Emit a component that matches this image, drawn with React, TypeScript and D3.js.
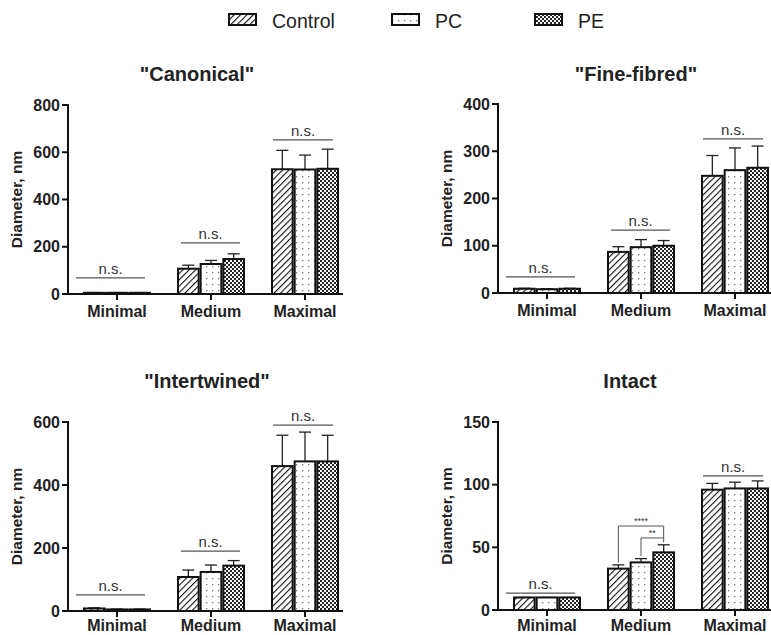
import React from "react";
import * as d3 from "d3";

const categories = ["Minimal", "Medium", "Maximal"];
const series = ["Control", "PC", "PE"];

// means / upper error, [category][series]
const canonicalMean = [[5, 5, 5], [107, 127, 148], [528, 527, 530]];
const canonicalErr = [[6, 6, 6], [122, 142, 170], [608, 588, 613]];
const canonicalNs = [68, 216, 652];

const fineMean = [[9, 8, 9], [87, 97, 100], [248, 260, 265]];
const fineErr = [[10, 9, 10], [98, 113, 111], [291, 307, 311]];
const fineNs = [34, 133, 326];

const interMean = [[8, 5, 5], [108, 124, 144], [460, 475, 475]];
const interErr = [[10, 6, 6], [130, 146, 160], [558, 568, 558]];
const interNs = [51, 190, 590];

const intactMean = [[10, 10, 10], [33, 38, 46], [96, 97, 97]];
const intactErr = [[10, 10, 10], [36, 41, 52], [101, 102, 103]];
const intactNs = [13.5, null, 107];
const intactBrackets = [
  { cat: 1, from: 0, to: 2, level: 67, legFrom: 38, legTo: 57, label: "****" },
  { cat: 1, from: 1, to: 2, level: 57.5, legFrom: 43, legTo: 54, label: "**" },
];

const FONT = "'Liberation Sans', Arial, sans-serif";
const fills = ["url(#hatch)", "url(#dots)", "url(#checker)"];

type PanelProps = {
  title: string;
  titleX: number;
  titleY: number;
  axisX: number;
  top: number;
  bottom: number;
  labelDy: number;
  yMax: number;
  yTicks: number[];
  mean: number[][];
  err: number[][];
  ns: (number | null)[];
  brackets?: typeof intactBrackets;
};

function Panel(p: PanelProps) {
  const y = d3.scaleLinear().domain([0, p.yMax]).range([p.bottom, p.top]);
  const x = d3.scaleBand().domain(categories).range([p.axisX + 2, p.axisX + 284]);
  const xs = d3.scaleBand().domain(series).range([-34, 34]);
  const cx = (c: string) => (x(c) as number) + x.bandwidth() / 2;
  const nsSpan = [[-41, 28], [-30, 29], [-32, 28]];

  return (
    <g>
      <text x={p.titleX} y={p.titleY} textAnchor="middle" fontSize={20} fontWeight="bold" fill="#222">
        {p.title}
      </text>
      <text
        transform={`translate(${p.axisX - 46},${(p.top + p.bottom) / 2}) rotate(-90)`}
        textAnchor="middle"
        fontSize={15.5}
        fontWeight="bold"
        fill="#222"
      >
        Diameter, nm
      </text>
      {categories.map((c, ci) =>
        series.map((s, si) => {
          const x0 = cx(c) + (xs(s) as number);
          const w = xs.bandwidth();
          const yv = y(p.mean[ci][si]);
          const ye = y(p.err[ci][si]);
          return (
            <g key={c + s}>
              <line x1={x0 + w / 2} x2={x0 + w / 2} y1={yv} y2={ye} stroke="#222" strokeWidth={1.3} />
              <line x1={x0 + w / 2 - 6} x2={x0 + w / 2 + 6} y1={ye} y2={ye} stroke="#222" strokeWidth={1.3} />
              <rect
                x={x0 + 1}
                y={yv}
                width={w - 2}
                height={p.bottom - yv}
                fill={fills[si]}
                stroke="#111"
                strokeWidth={2}
              />
            </g>
          );
        })
      )}
      {p.ns.map((v, ci) =>
        v == null ? null : (
          <g key={"ns" + ci}>
            <line
              x1={cx(categories[ci]) + nsSpan[ci][0]}
              x2={cx(categories[ci]) + nsSpan[ci][1]}
              y1={y(v)}
              y2={y(v)}
              stroke="#555"
              strokeWidth={1.2}
            />
            <text
              x={cx(categories[ci]) + (nsSpan[ci][0] + nsSpan[ci][1]) / 2}
              y={y(v) - 4}
              textAnchor="middle"
              fontSize={15}
              fill="#333"
            >
              n.s.
            </text>
          </g>
        )
      )}
      {(p.brackets || []).map((b, i) => {
        const c = categories[b.cat];
        const xa = cx(c) + (xs(series[b.from]) as number) + xs.bandwidth() / 2;
        const xb = cx(c) + (xs(series[b.to]) as number) + xs.bandwidth() / 2;
        return (
          <g key={"br" + i}>
            <path
              d={`M${xa},${y(b.legFrom)}V${y(b.level)}H${xb}V${y(b.legTo)}`}
              fill="none"
              stroke="#555"
              strokeWidth={1}
            />
            <text x={(xa + xb) / 2} y={y(b.level) - 2} textAnchor="middle" fontSize={9} fill="#333">
              {b.label}
            </text>
          </g>
        );
      })}
      {/* y axis */}
      <line x1={p.axisX} x2={p.axisX} y1={p.top - 1} y2={p.bottom + 1} stroke="#111" strokeWidth={2} />
      {p.yTicks.map((t) => (
        <g key={t}>
          <line x1={p.axisX - 6} x2={p.axisX} y1={y(t)} y2={y(t)} stroke="#111" strokeWidth={2} />
          <text x={p.axisX - 8} y={y(t) + 5.5} textAnchor="end" fontSize={16} fontWeight="bold" fill="#222">
            {t}
          </text>
        </g>
      ))}
      {/* x axis */}
      <line x1={p.axisX - 1} x2={p.axisX + 275} y1={p.bottom} y2={p.bottom} stroke="#111" strokeWidth={2} />
      {categories.map((c) => (
        <g key={c}>
          <line x1={cx(c)} x2={cx(c)} y1={p.bottom} y2={p.bottom + 6} stroke="#111" strokeWidth={2} />
          <text x={cx(c)} y={p.bottom + p.labelDy} textAnchor="middle" fontSize={16} fontWeight="bold" fill="#222">
            {c}
          </text>
        </g>
      ))}
    </g>
  );
}

const legendX = [229, 392, 535];

export default function App() {
  return (
    <svg
      width={771}
      height={635}
      style={{ position: "absolute", left: 0, top: 0, background: "#fff" }}
      fontFamily={FONT}
    >
      <defs>
        <pattern id="hatch" patternUnits="userSpaceOnUse" width={4.5} height={4.5} patternTransform="rotate(45)">
          <rect width={4.5} height={4.5} fill="#fff" />
          <line x1={0} y1={0} x2={0} y2={4.5} stroke="#111" strokeWidth={2.2} />
        </pattern>
        <pattern id="dots" patternUnits="userSpaceOnUse" width={6} height={6}>
          <rect width={6} height={6} fill="#fff" />
          <rect x={2} y={2} width={1.3} height={1.3} fill="#777" />
        </pattern>
        <pattern id="checker" patternUnits="userSpaceOnUse" width={4} height={4}>
          <rect width={4} height={4} fill="#fff" />
          <rect width={2} height={2} fill="#222" />
          <rect x={2} y={2} width={2} height={2} fill="#222" />
        </pattern>
      </defs>
      <rect width={771} height={635} fill="#fff" />
      {series.map((s, i) => (
        <g key={s}>
          <rect x={legendX[i]} y={14} width={27} height={11} fill={fills[i]} stroke="#111" strokeWidth={2} />
          <text x={legendX[i] + 43} y={28} fontSize={19.5} fill="#222">
            {s}
          </text>
        </g>
      ))}
      <Panel
        title={'"Canonical"'}
        titleX={197}
        titleY={81}
        axisX={68}
        top={105}
        bottom={294}
        labelDy={23}
        yMax={800}
        yTicks={[0, 200, 400, 600, 800]}
        mean={canonicalMean}
        err={canonicalErr}
        ns={canonicalNs}
      />
      <Panel
        title={'"Fine-fibred"'}
        titleX={636}
        titleY={81}
        axisX={498}
        top={104}
        bottom={293}
        labelDy={23}
        yMax={400}
        yTicks={[0, 100, 200, 300, 400]}
        mean={fineMean}
        err={fineErr}
        ns={fineNs}
      />
      <Panel
        title={'"Intertwined"'}
        titleX={207}
        titleY={388}
        axisX={68}
        top={422}
        bottom={611}
        labelDy={20}
        yMax={600}
        yTicks={[0, 200, 400, 600]}
        mean={interMean}
        err={interErr}
        ns={interNs}
      />
      <Panel
        title="Intact"
        titleX={630}
        titleY={388}
        axisX={498}
        top={422}
        bottom={610}
        labelDy={21}
        yMax={150}
        yTicks={[0, 50, 100, 150]}
        mean={intactMean}
        err={intactErr}
        ns={intactNs}
        brackets={intactBrackets}
      />
    </svg>
  );
}
